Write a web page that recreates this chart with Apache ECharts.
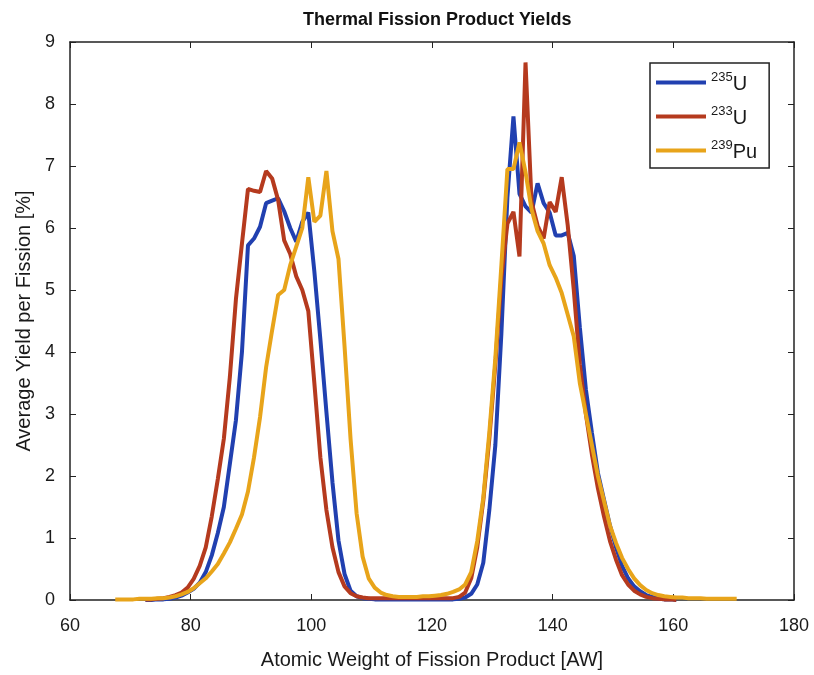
<!DOCTYPE html>
<html>
<head>
<meta charset="utf-8">
<script src="https://cdn.jsdelivr.net/npm/echarts@6/dist/echarts.min.js"></script>
<style>
  html, body { margin: 0; padding: 0; background: #fff; }
  #chart { width: 814px; height: 675px; }
</style>
</head>
<body>
<div id="chart"></div>
<script>
// mass positions as plotted (first point and step along the x axis)
var massStart = 67.5;
var massStep = 1;

// legend labels: superscript mass + element
var isotopeMass = ['235', '233', '239'];
var isotopeSymbol = ['U', 'U', 'Pu'];
var lineColors = ['#2140b0', '#b53a1e', '#e8a41a'];

// U-235 yields [%] (null = no point)
var yieldU235 = [
    null, null, null, null, null,
    0.0, 0.0, 0.01, 0.01, 0.02, 0.04, 0.07, 0.12, 0.18, 0.28,
    0.45, 0.72, 1.08, 1.5, 2.2, 2.9, 4.0, 5.72, 5.83, 6.02,
    6.4, 6.44, 6.48, 6.27, 6.0, 5.78, 6.1, 6.25, 5.3, 4.2,
    3.03, 1.9, 0.96, 0.42, 0.15, 0.06, 0.03, 0.02,
    0.01, 0.01, 0.01, 0.01, 0.01, 0.01, 0.01, 0.01, 0.01, 0.01, 0.01, 0.01, 0.01, 0.01,
    0.02, 0.04, 0.1, 0.25, 0.6, 1.45, 2.5, 4.3, 6.5, 7.8,
    6.55, 6.35, 6.25, 6.72, 6.4, 6.25, 5.88, 5.88, 5.92, 5.55,
    4.4, 3.4, 2.7, 2.05, 1.62, 1.2, 0.85, 0.55, 0.35, 0.22,
    0.14, 0.08, 0.05, 0.02, 0.01, 0.01, 0.0,
    null, null, null, null, null, null, null, null, null, null
];

// U-233 yields [%]
var yieldU233 = [
    null, null, null, null, null,
    0.01, 0.01, 0.02, 0.03, 0.05, 0.08, 0.12, 0.2, 0.34, 0.55,
    0.85, 1.35, 1.95, 2.6, 3.6, 4.85, 5.75, 6.63, 6.6, 6.58,
    6.92, 6.8, 6.45, 5.8, 5.58, 5.22, 5.0, 4.66, 3.5, 2.3,
    1.45, 0.85, 0.45, 0.22, 0.11, 0.06, 0.04,
    0.03, 0.03, 0.03, 0.03, 0.03, 0.03, 0.03, 0.03, 0.03, 0.03, 0.03, 0.03, 0.03, 0.03, 0.03,
    0.05, 0.12, 0.35, 0.85, 1.6, 2.6, 3.8, 5.2, 6.07, 6.26,
    5.54, 8.67, 6.42, 6.04, 5.83, 6.42, 6.26, 6.82, 6.04, 5.0,
    3.8, 3.0, 2.35, 1.8, 1.35, 0.95, 0.65, 0.4, 0.25, 0.15,
    0.09, 0.05, 0.03, 0.02, 0.01, 0.01, 0.0,
    null, null, null, null, null, null, null, null, null, null
];

// Pu-239 yields [%]
var yieldPu239 = [
    0.01, 0.01, 0.01, 0.01, 0.02, 0.02, 0.02, 0.03, 0.03, 0.04,
    0.06, 0.09, 0.13, 0.19, 0.27, 0.35, 0.46, 0.58, 0.75, 0.93,
    1.15, 1.38, 1.75, 2.3, 2.95, 3.75, 4.35, 4.92, 5.0, 5.4,
    5.7, 6.0, 6.82, 6.1, 6.2, 6.92, 5.95, 5.5, 4.1, 2.6,
    1.4, 0.7, 0.35, 0.2, 0.12, 0.08, 0.06, 0.05, 0.05, 0.05,
    0.05, 0.06, 0.06, 0.07, 0.08, 0.1, 0.13, 0.17, 0.25, 0.45,
    0.95, 1.65, 2.7, 3.9, 5.4, 6.95, 6.95, 7.38, 6.9, 6.3,
    5.95, 5.75, 5.4, 5.2, 4.95, 4.6, 4.25, 3.5, 3.0, 2.5,
    2.0, 1.6, 1.2, 0.92, 0.68, 0.5, 0.35, 0.24, 0.16, 0.11,
    0.08, 0.06, 0.05, 0.04, 0.04, 0.03, 0.03, 0.03, 0.02, 0.02,
    0.02, 0.02, 0.02, 0.02
];

var xTicks = { min: 60, max: 180, interval: 20 };
var yTicks = { min: 0, max: 9, interval: 1 };

function toPairs(values) {
    var out = [];
    for (var i = 0; i < values.length; i++) {
        out.push([massStart + i * massStep, values[i]]);
    }
    return out;
}

var allYields = [yieldU235, yieldU233, yieldPu239];
var series = [];
for (var k = 0; k < allYields.length; k++) {
    series.push({
        name: isotopeMass[k] + isotopeSymbol[k],
        type: 'line',
        data: toPairs(allYields[k]),
        showSymbol: false,
        connectNulls: false,
        lineStyle: { width: 4, color: lineColors[k] },
        itemStyle: { color: lineColors[k] },
        z: 2 + k
    });
}
var seriesNames = series.map(function (s) { return s.name; });

var font = 'Liberation Sans';
var ink = '#1a1a1a';
var chart = echarts.init(document.getElementById('chart'));
chart.setOption({
    animation: false,
    backgroundColor: '#fff',
    title: {
        text: 'Thermal Fission Product Yields',
        left: 298,
        top: 6,
        textStyle: { fontFamily: font, fontSize: 18, fontWeight: 'bold', color: '#111' }
    },
    grid: { left: 70, right: 20, top: 42, bottom: 70 },
    legend: {
        orient: 'vertical',
        left: 650,
        top: 63,
        itemWidth: 50,
        itemHeight: 4,
        itemGap: 11,
        icon: 'rect',
        borderColor: '#222',
        borderWidth: 1.5,
        borderRadius: 0,
        padding: [8, 12, 6, 6],
        data: seriesNames,
        formatter: function (name) {
            var i = seriesNames.indexOf(name);
            return '{sup|' + isotopeMass[i] + '}{el|' + isotopeSymbol[i] + '}';
        },
        textStyle: {
            fontFamily: font,
            color: ink,
            rich: {
                sup: { fontFamily: font, fontSize: 13, verticalAlign: 'top', lineHeight: 23, color: ink },
                el: { fontFamily: font, fontSize: 20, lineHeight: 23, verticalAlign: 'bottom', color: ink }
            }
        }
    },
    xAxis: [{
        type: 'value',
        min: xTicks.min, max: xTicks.max, interval: xTicks.interval,
        name: 'Atomic Weight of Fission Product [AW]',
        nameLocation: 'middle',
        nameGap: 50,
        nameTextStyle: { fontFamily: font, fontSize: 20, color: ink },
        axisLine: { onZero: false, lineStyle: { color: '#222', width: 1.5 } },
        axisTick: { inside: true, length: 6, lineStyle: { color: '#222' } },
        axisLabel: { fontFamily: font, fontSize: 18, color: ink, margin: 17 },
        splitLine: { show: false }
    }, {
        type: 'value', position: 'top',
        min: xTicks.min, max: xTicks.max, interval: xTicks.interval,
        axisLine: { onZero: false, lineStyle: { color: '#222', width: 1.5 } },
        axisTick: { inside: true, length: 6, lineStyle: { color: '#222' } },
        axisLabel: { show: false },
        splitLine: { show: false }
    }],
    yAxis: [{
        type: 'value',
        min: yTicks.min, max: yTicks.max, interval: yTicks.interval,
        name: 'Average Yield per Fission [%]',
        nameLocation: 'middle',
        nameGap: 34,
        nameTextStyle: { fontFamily: font, fontSize: 20, color: ink },
        axisLine: { show: true, onZero: false, lineStyle: { color: '#222', width: 1.5 } },
        axisTick: { show: true, inside: true, length: 6, lineStyle: { color: '#222' } },
        axisLabel: { fontFamily: font, fontSize: 18, color: ink, margin: 15 },
        splitLine: { show: false }
    }, {
        type: 'value', position: 'right',
        min: yTicks.min, max: yTicks.max, interval: yTicks.interval,
        axisLine: { show: true, onZero: false, lineStyle: { color: '#222', width: 1.5 } },
        axisTick: { show: true, inside: true, length: 6, lineStyle: { color: '#222' } },
        axisLabel: { show: false },
        splitLine: { show: false }
    }],
    series: series
});
</script>
</body>
</html>
